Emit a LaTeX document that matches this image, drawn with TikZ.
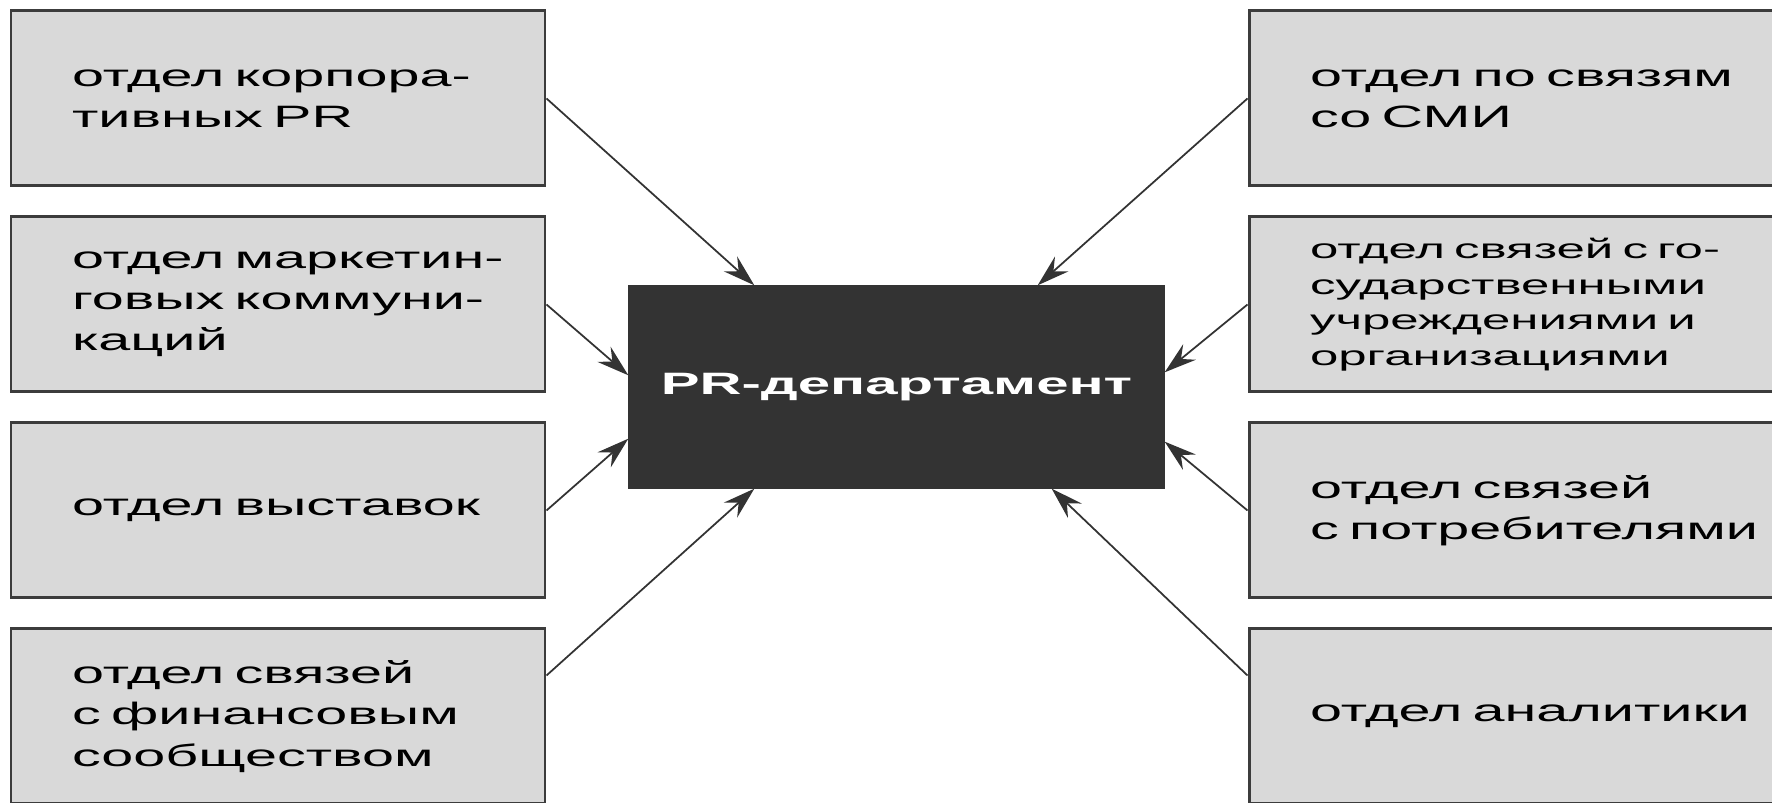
\documentclass[tikz,border=0pt]{standalone}
\usepackage{fontspec}
\setmainfont{Liberation Sans}
\newfontfamily\deptfont[FakeStretch=1.86]{Liberation Sans}
\newfontfamily\prfont[FakeStretch=1.88]{Liberation Sans}
\newcommand\deptsize{\deptfont\exhyphenpenalty=10000 \fontsize{8.8}{11.7}\selectfont}
\newcommand\smalldeptsize{\deptfont\exhyphenpenalty=10000 \fontsize{7.8}{10.1}\selectfont}
\usetikzlibrary{arrows.meta}
\definecolor{boxgray}{HTML}{D9D9D9}
\definecolor{edgegray}{HTML}{3C3C3C}
\definecolor{prgray}{HTML}{333333}
\tikzset{
  dept/.style={draw=edgegray, line width=0.85pt, fill=boxgray, minimum height=1.75cm,
    text width=4.12cm, inner xsep=0.61cm, inner ysep=0pt, align=left, font=\deptsize},
  link/.style={draw=prgray, line width=0.5pt, -{Stealth[length=3.2mm,width=2mm,inset=1.1mm]}}
}
\begin{document}
\begin{tikzpicture}[node distance=2.06cm]
\useasboundingbox (0,0) rectangle (17.72,8.03);
% centre
\node (pr) [draw=prgray, fill=prgray, minimum width=5.35cm, minimum height=2.02cm, text=white,
  font=\prfont\bfseries\fontsize{8.8}{11}\selectfont] at (8.965,4.16) {PR-департамент};
% left column
\node (d1) [dept] at (2.78,7.045) {отдел~корпора-\\тивных~PR};
\node (d2) [dept, below of=d1] {отдел~маркетин-\\говых~коммуни-\\каций};
\node (d3) [dept, below of=d2] {отдел~выставок};
\node (d4) [dept, below of=d3] {отдел~связей\\с~финансовым\\сообществом};
% right column
\node (r1) [dept, right of=d1, node distance=12.38cm] {отдел~по~связям\\со~СМИ};
\node (r2) [dept, below of=r1, font=\smalldeptsize]
  {отдел~связей~с~го-\\сударственными\\учреждениями~и\\организациями};
\node (r3) [dept, below of=r2] {отдел~связей\\с~потребителями};
\node (r4) [dept, below of=r3] {отдел~аналитики};
% links
\draw[link] (d1.east) -- ([xshift=1.26cm]pr.north west);
\draw[link] (d2.east) -- ([yshift=-0.9cm]pr.north west);
\draw[link] (d3.east) -- ([yshift=0.5cm]pr.south west);
\draw[link] ([yshift=0.41cm]d4.east) -- ([xshift=1.26cm]pr.south west);
\draw[link] (r1.west) -- ([xshift=-1.27cm]pr.north east);
\draw[link] (r2.west) -- ([yshift=-0.87cm]pr.north east);
\draw[link] (r3.west) -- ([yshift=0.47cm]pr.south east);
\draw[link] ([yshift=0.41cm]r4.west) -- ([xshift=-1.13cm]pr.south east);
\end{tikzpicture}
\end{document}
